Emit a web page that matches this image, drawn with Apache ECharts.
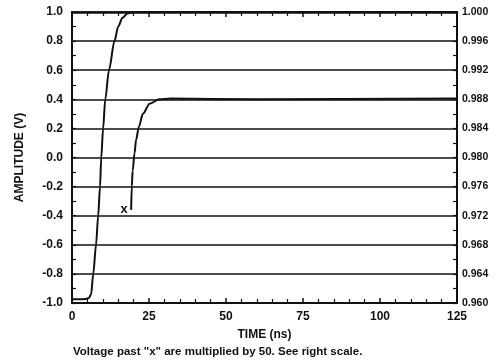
<!doctype html>
<html>
<head>
    <meta charset="utf-8">
    <title>Amplitude vs time</title>
    <script src="https://cdn.jsdelivr.net/npm/echarts@6/dist/echarts.min.js"></script>
    <style>
        html, body { margin: 0; padding: 0; background: #fff; }
        #chart { width: 504px; height: 364px; }
    </style>
</head>
<body>
<div id="chart"></div>
<script>
    // main step response, left scale (V)
    var mainTime = [0, 2, 4.5, 5.5, 6.2, 6.9, 7.8, 8.5, 9.1, 9.5, 10.1, 10.8, 12.0, 13.8, 15.0, 16.4, 18.0, 20.0, 125];
    var mainVolt = [-0.975, -0.975, -0.972, -0.965, -0.94, -0.8, -0.6, -0.4, -0.2, 0.0, 0.2, 0.4, 0.6, 0.8, 0.9, 0.96, 0.99, 1.0, 1.0];
    // values past "x", right scale
    var zoomTime = [19.2, 19.4, 19.7, 20.3, 20.8, 21.7, 23.0, 25.2, 28.4, 32, 60, 125];
    var zoomVolt = [0.9728, 0.976, 0.9782, 0.9806, 0.9824, 0.9842, 0.986, 0.9874, 0.988, 0.9881, 0.988, 0.9881];
    var timeTicks = [0, 25, 50, 75, 100, 125];

    var font = 'Liberation Sans, Arial, sans-serif';
    var ink = '#111';

    function pairs(xs, ys) {
        var out = [];
        for (var i = 0; i < xs.length; i++) out.push([xs[i], ys[i]]);
        return out;
    }

    // the "x" mark sits on the first point of the x50 trace
    var zoomData = pairs(zoomTime, zoomVolt);
    zoomData[0] = {
        value: zoomData[0],
        label: {show: true, position: 'left', distance: 3, formatter: 'x',
            color: ink, fontFamily: font, fontWeight: 'bold', fontSize: 13}
    };

    var myChart = echarts.init(document.getElementById('chart'));
    var option = {
        animation: false,
        title: {
            text: 'Voltage past "x" are multiplied by 50. See right scale.',
            left: 73, top: 346, padding: 0,
            textStyle: {fontFamily: font, fontWeight: 'bold', fontSize: 11.5, color: ink}
        },
        grid: {left: 72, right: 47, top: 12, bottom: 61},
        xAxis: [{
            type: 'value', min: 0, max: 125, interval: 25,
            name: 'TIME (ns)', nameLocation: 'middle', nameGap: 26,
            nameTextStyle: {fontFamily: font, fontWeight: 'bold', fontSize: 12, color: ink},
            axisLine: {onZero: false, lineStyle: {color: ink, width: 2}},
            axisTick: {inside: true, length: 5, lineStyle: {color: ink, width: 1.5}},
            minorTick: {show: true, splitNumber: 5, length: 4, lineStyle: {color: ink, width: 1.2}},
            axisLabel: {margin: 8, fontFamily: font, fontWeight: 'bold', fontSize: 12, color: ink,
                customValues: timeTicks},
            splitLine: {show: false}
        }, {
            type: 'value', position: 'top', min: 0, max: 125, interval: 25,
            axisLine: {onZero: false, lineStyle: {color: ink, width: 2.5}},
            axisTick: {inside: true, length: 5, lineStyle: {color: ink, width: 1.5}},
            minorTick: {show: true, splitNumber: 5, length: 4, lineStyle: {color: ink, width: 1.2}},
            axisLabel: {show: false},
            splitLine: {show: false}
        }],
        yAxis: [{
            type: 'value', min: -1, max: 1, interval: 0.2,
            name: 'AMPLITUDE (V)', nameLocation: 'middle', nameGap: 46,
            nameTextStyle: {fontFamily: font, fontWeight: 'bold', fontSize: 12, color: ink},
            axisLine: {show: true, onZero: false, lineStyle: {color: ink, width: 2}},
            axisTick: {inside: true, length: 4, lineStyle: {color: ink, width: 1.2}},
            minorTick: {show: true, splitNumber: 2, length: 4, lineStyle: {color: ink, width: 1.2}},
            axisLabel: {margin: 9, fontFamily: font, fontWeight: 'bold', fontSize: 12, color: ink,
                formatter: function (v) { return v.toFixed(1); }},
            splitLine: {show: true, lineStyle: {color: ink, width: 1.5}}
        }, {
            type: 'value', min: 0.96, max: 1.0, interval: 0.004,
            position: 'right',
            axisLine: {show: true, onZero: false, lineStyle: {color: ink, width: 2}},
            axisTick: {inside: true, length: 4, lineStyle: {color: ink, width: 1.2}},
            minorTick: {show: true, splitNumber: 2, length: 4, lineStyle: {color: ink, width: 1.2}},
            axisLabel: {margin: 5, fontFamily: font, fontWeight: 'bold', fontSize: 10.5, color: ink,
                formatter: function (v) { return v.toFixed(3); }},
            splitLine: {show: false}
        }],
        series: [{
            name: 'main',
            type: 'line',
            data: pairs(mainTime, mainVolt),
            symbol: 'none',
            smooth: 0.3,
            smoothMonotone: 'x',
            lineStyle: {color: ink, width: 2}
        }, {
            name: 'x50',
            type: 'line',
            yAxisIndex: 1,
            data: zoomData,
            symbol: 'circle',
            symbolSize: 1,
            showSymbol: true,
            itemStyle: {color: 'rgba(0,0,0,0)'},
            smooth: 0.3,
            smoothMonotone: 'x',
            lineStyle: {color: ink, width: 2}
        }]
    };
    myChart.setOption(option);
</script>
</body>
</html>
